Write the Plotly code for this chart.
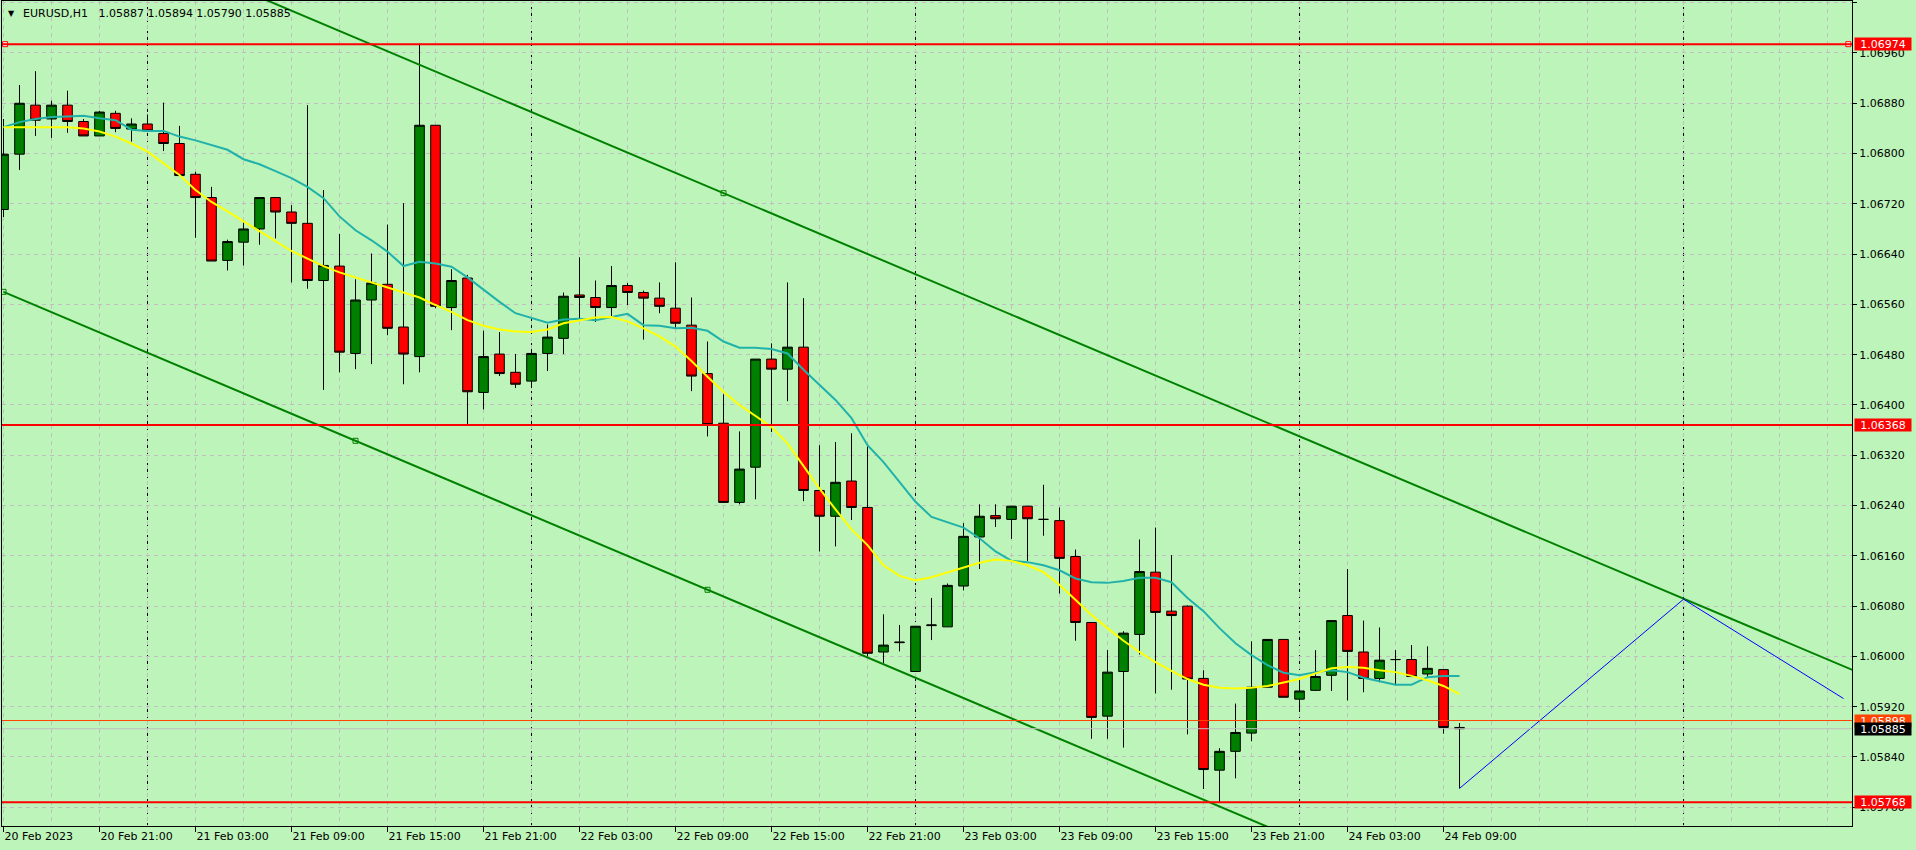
import plotly.graph_objects as go

# ---------------- data ----------------
bar_index = list(range(92))  # hourly bars, 20 Feb 2023 15:00 ... 24 Feb 2023 10:00

opens = [1.06711, 1.06799, 1.06877, 1.06855, 1.06877, 1.06851, 1.06828, 1.06864, 1.06839, 1.06847,
         1.06832, 1.06816, 1.06767, 1.06730, 1.06630, 1.06659, 1.06680, 1.06730, 1.06707, 1.06689,
         1.06598, 1.06621, 1.06482, 1.06567, 1.06592, 1.06524, 1.06477, 1.06845, 1.06555, 1.06602,
         1.06420, 1.06481, 1.06452, 1.06438, 1.06482, 1.06506, 1.06575, 1.06571, 1.06555, 1.06590,
         1.06579, 1.06570, 1.06554, 1.06527, 1.06450, 1.06371, 1.06245, 1.06301, 1.06473, 1.06457,
         1.06492, 1.06264, 1.06223, 1.06279, 1.06237, 1.06007, 1.06023, 1.05976, 1.06049, 1.06047,
         1.06112, 1.06190, 1.06224, 1.06218, 1.06239, 1.06218, 1.06216, 1.06159, 1.06054, 1.05905,
         1.05976, 1.06035, 1.06134, 1.06072, 1.06080, 1.05965, 1.05819, 1.05849, 1.05878, 1.05951,
         1.06027, 1.05932, 1.05946, 1.05970, 1.06065, 1.06007, 1.05965, 1.05995, 1.05995, 1.05972,
         1.05979, 1.05887]

highs = [1.06855, 1.06909, 1.06931, 1.06884, 1.06900, 1.06855, 1.06868, 1.06868, 1.06856, 1.06862,
         1.06881, 1.06844, 1.06771, 1.06747, 1.06663, 1.06690, 1.06730, 1.06730, 1.06718, 1.06877,
         1.06742, 1.06672, 1.06600, 1.06641, 1.06687, 1.06721, 1.06975, 1.06845, 1.06616, 1.06607,
         1.06518, 1.06516, 1.06481, 1.06487, 1.06528, 1.06579, 1.06635, 1.06598, 1.06621, 1.06594,
         1.06582, 1.06595, 1.06627, 1.06571, 1.06501, 1.06417, 1.06358, 1.06473, 1.06498, 1.06595,
         1.06570, 1.06336, 1.06341, 1.06355, 1.06334, 1.06067, 1.06050, 1.06048, 1.06093, 1.06116,
         1.06212, 1.06242, 1.06242, 1.06239, 1.06239, 1.06273, 1.06237, 1.06170, 1.06054, 1.06010,
         1.06040, 1.06186, 1.06205, 1.06161, 1.06081, 1.05978, 1.05854, 1.05925, 1.06024, 1.06027,
         1.06027, 1.05961, 1.06010, 1.06057, 1.06139, 1.06057, 1.06046, 1.06010, 1.06018, 1.06016,
         1.05979, 1.05894]

lows = [1.06699, 1.06774, 1.06828, 1.06825, 1.06833, 1.06828, 1.06828, 1.06834, 1.06819, 1.06835,
        1.06804, 1.06765, 1.06666, 1.06629, 1.06614, 1.06622, 1.06655, 1.06665, 1.06595, 1.06585,
        1.06424, 1.06452, 1.06457, 1.06465, 1.06511, 1.06433, 1.06452, 1.06554, 1.06519, 1.06369,
        1.06393, 1.06446, 1.06427, 1.06427, 1.06454, 1.06481, 1.06538, 1.06532, 1.06541, 1.06559,
        1.06504, 1.06546, 1.06522, 1.06422, 1.06350, 1.06244, 1.06242, 1.06250, 1.06357, 1.06406,
        1.06247, 1.06167, 1.06175, 1.06217, 1.06000, 1.05989, 1.06008, 1.05976, 1.06026, 1.06047,
        1.06105, 1.06139, 1.06206, 1.06187, 1.06152, 1.06192, 1.06100, 1.06025, 1.05869, 1.05869,
        1.05855, 1.06003, 1.05941, 1.05947, 1.05876, 1.05789, 1.05768, 1.05806, 1.05865, 1.05951,
        1.05935, 1.05916, 1.05945, 1.05945, 1.05930, 1.05943, 1.05959, 1.05954, 1.05967, 1.05966,
        1.05877, 1.05790]

closes = [1.06799, 1.06880, 1.06853, 1.06877, 1.06851, 1.06828, 1.06866, 1.06840, 1.06847, 1.06836,
          1.06816, 1.06765, 1.06730, 1.06629, 1.06660, 1.06680, 1.06730, 1.06707, 1.06689, 1.06598,
          1.06622, 1.06484, 1.06567, 1.06594, 1.06522, 1.06481, 1.06845, 1.06557, 1.06598, 1.06421,
          1.06477, 1.06450, 1.06433, 1.06482, 1.06508, 1.06573, 1.06571, 1.06555, 1.06590, 1.06579,
          1.06570, 1.06557, 1.06530, 1.06446, 1.06369, 1.06245, 1.06298, 1.06473, 1.06457, 1.06492,
          1.06264, 1.06223, 1.06277, 1.06237, 1.06005, 1.06018, 1.06022, 1.06048, 1.06050, 1.06113,
          1.06191, 1.06223, 1.06219, 1.06239, 1.06219, 1.06218, 1.06156, 1.06054, 1.05903, 1.05975,
          1.06037, 1.06135, 1.06070, 1.06065, 1.05964, 1.05820, 1.05849, 1.05879, 1.05951, 1.06027,
          1.05935, 1.05945, 1.05968, 1.06057, 1.06008, 1.05965, 1.05994, 1.05995, 1.05968, 1.05981,
          1.05887, 1.05885]

ma_fast = [1.06842, 1.06842, 1.06842, 1.06842, 1.06842, 1.06840, 1.06835, 1.06827, 1.06816, 1.06803,
           1.06785, 1.06766, 1.06742, 1.06723, 1.06708, 1.06692, 1.06676, 1.06660, 1.06645, 1.06633,
           1.06621, 1.06611, 1.06603, 1.06595, 1.06587, 1.06579, 1.06571, 1.06559, 1.06548, 1.06535,
           1.06526, 1.06520, 1.06517, 1.06516, 1.06520, 1.06530, 1.06535, 1.06539, 1.06540, 1.06533,
           1.06522, 1.06509, 1.06493, 1.06470, 1.06445, 1.06421, 1.06400, 1.06382, 1.06365, 1.06339,
           1.06302, 1.06267, 1.06234, 1.06202, 1.06177, 1.06145, 1.06128, 1.06121, 1.06126, 1.06134,
           1.06141, 1.06149, 1.06154, 1.06152, 1.06145, 1.06134, 1.06114, 1.06090, 1.06066, 1.06045,
           1.06025, 1.06007, 1.05991, 1.05977, 1.05964, 1.05955, 1.05950, 1.05949, 1.05950, 1.05953,
           1.05958, 1.05964, 1.05973, 1.05981, 1.05983, 1.05982, 1.05978, 1.05975, 1.05969, 1.05962,
           1.05953, 1.05940]

ma_slow = [1.06842, 1.06850, 1.06855, 1.06858, 1.06859, 1.06860, 1.06856, 1.06853, 1.06838, 1.06836,
           1.06836, 1.06827, 1.06821, 1.06814, 1.06806, 1.06791, 1.06783, 1.06772, 1.06761, 1.06747,
           1.06729, 1.06700, 1.06678, 1.06662, 1.06644, 1.06621, 1.06628, 1.06625, 1.06620, 1.06603,
           1.06583, 1.06564, 1.06546, 1.06538, 1.06531, 1.06536, 1.06537, 1.06535, 1.06540, 1.06545,
           1.06527, 1.06526, 1.06522, 1.06523, 1.06518, 1.06501, 1.06491, 1.06491, 1.06489, 1.06482,
           1.06456, 1.06432, 1.06408, 1.06379, 1.06336, 1.06309, 1.06277, 1.06246, 1.06222, 1.06214,
           1.06205, 1.06188, 1.06167, 1.06152, 1.06150, 1.06145, 1.06137, 1.06124, 1.06118, 1.06117,
           1.06120, 1.06125, 1.06125, 1.06118, 1.06093, 1.06072, 1.06045, 1.06021, 1.06002, 1.05986,
           1.05974, 1.05970, 1.05975, 1.05978, 1.05975, 1.05966, 1.05960, 1.05955, 1.05955, 1.05967,
           1.05969, 1.05969]

tick_bars = [0, 6, 12, 18, 24, 30, 36, 42, 48, 54, 60, 66, 72, 78, 84, 90]
tick_labels = ["20 Feb 2023", "20 Feb 21:00", "21 Feb 03:00", "21 Feb 09:00", "21 Feb 15:00",
               "21 Feb 21:00", "22 Feb 03:00", "22 Feb 09:00", "22 Feb 15:00", "22 Feb 21:00",
               "23 Feb 03:00", "23 Feb 09:00", "23 Feb 15:00", "23 Feb 21:00", "24 Feb 03:00",
               "24 Feb 09:00"]
day_separators = [9, 33, 57, 81, 105]

h_levels = [1.06974, 1.06368, 1.05768]
ask_price = 1.05898

channel_upper = {"bars": [45, 105], "prices": [1.06737, 1.06092]}
channel_lower = {"bars": [0, 44], "prices": [1.06580, 1.06106]}
channel_lower_marks = [0, 22, 44]
channel_upper_marks = [45]

zigzag_bars = [91, 105, 115]
zigzag_prices = [1.05790, 1.06091, 1.05933]

# ---------------- styling ----------------
BG = "#BDF4B9"
GRID = "#C4BCC4"
FONT = "DejaVu Sans"
X_MIN, X_MAX = -0.094, 115.53
Y_MIN, Y_MAX = 1.057302, 1.070427


def line_at(k, bars, prices):
    slope = (prices[1] - prices[0]) / (bars[1] - bars[0])
    return prices[0] + slope * (k - bars[0])


fig = go.Figure()

fig.add_trace(go.Candlestick(
    x=bar_index, open=opens, high=highs, low=lows, close=closes,
    increasing=dict(line=dict(color="black", width=1), fillcolor="#008000"),
    decreasing=dict(line=dict(color="black", width=1), fillcolor="#FF0000"),
    whiskerwidth=0, hoverinfo="skip", showlegend=False,
))

fig.add_trace(go.Scatter(x=bar_index, y=ma_slow, mode="lines",
                         line=dict(color="#20B2AA", width=2), hoverinfo="skip", showlegend=False))
fig.add_trace(go.Scatter(x=bar_index, y=ma_fast, mode="lines",
                         line=dict(color="#FFFF00", width=2), hoverinfo="skip", showlegend=False))

# channel lines (rays)
ux = [X_MIN - 20, X_MAX + 5]
fig.add_trace(go.Scatter(x=ux, y=[line_at(k, channel_upper["bars"], channel_upper["prices"]) for k in ux],
                         mode="lines", line=dict(color="#008000", width=2), hoverinfo="skip", showlegend=False))
lx = [channel_lower["bars"][0], X_MAX + 5]
fig.add_trace(go.Scatter(x=lx, y=[line_at(k, channel_lower["bars"], channel_lower["prices"]) for k in lx],
                         mode="lines", line=dict(color="#008000", width=2), hoverinfo="skip", showlegend=False))
mk_x = channel_lower_marks + channel_upper_marks
mk_y = [line_at(k, channel_lower["bars"], channel_lower["prices"]) for k in channel_lower_marks] + \
       [line_at(k, channel_upper["bars"], channel_upper["prices"]) for k in channel_upper_marks]
fig.add_trace(go.Scatter(x=mk_x, y=mk_y, mode="markers",
                         marker=dict(symbol="square-open", size=5, color="#008000", line=dict(width=1)),
                         hoverinfo="skip", showlegend=False))

# zigzag projection
fig.add_trace(go.Scatter(x=zigzag_bars, y=zigzag_prices, mode="lines",
                         line=dict(color="#0000FF", width=1), hoverinfo="skip", showlegend=False))

shapes = []
for d in day_separators:
    shapes.append(dict(type="line", xref="x", yref="paper", x0=d, x1=d, y0=0, y1=1,
                       line=dict(color="black", width=1, dash="3px,3px"), layer="below"))
for lv in h_levels:
    shapes.append(dict(type="line", xref="paper", yref="y", x0=0, x1=1, y0=lv, y1=lv,
                       line=dict(color="#FF0000", width=2), layer="above"))
shapes.append(dict(type="line", xref="paper", yref="y", x0=0, x1=1, y0=ask_price, y1=ask_price,
                   line=dict(color="#FF4500", width=1), layer="above"))
shapes.append(dict(type="line", xref="paper", yref="y", x0=0, x1=1, y0=closes[-1], y1=closes[-1],
                   line=dict(color="#C0C0C0", width=1), layer="above"))

# anchor squares on the top horizontal level
fig.add_trace(go.Scatter(x=[0.1, 115.3], y=[h_levels[0], h_levels[0]], mode="markers",
                         marker=dict(symbol="square", size=5, color="white",
                                     line=dict(color="#FF0000", width=1)),
                         hoverinfo="skip", showlegend=False))

annotations = []
def price_label(price, bg):
    return dict(xref="paper", yref="y", x=1, y=price, xanchor="left", yanchor="middle",
                xshift=2, text=f"{price:.5f}", showarrow=False, bgcolor=bg,
                font=dict(family=FONT, size=11, color="white"), width=56, height=12,
                borderpad=0, align="center", valign="middle")

for lv in h_levels:
    annotations.append(price_label(lv, "#FF0000"))
annotations.append(price_label(ask_price, "#FF4500"))
annotations.append(price_label(closes[-1], "#000000"))

annotations.append(dict(xref="paper", yref="paper", x=0, y=1, xanchor="left", yanchor="middle",
                        xshift=4, yshift=-12.5, text="▼", showarrow=False,
                        font=dict(family=FONT, size=8, color="black")))
title_txt = "EURUSD,H1\u00a0\u00a0\u00a0" + " ".join(f"{v:.5f}" for v in (opens[-1], highs[-1], lows[-1], closes[-1]))
annotations.append(dict(xref="paper", yref="paper", x=0, y=1, xanchor="left", yanchor="middle",
                        xshift=18.5, yshift=-12.5, text=title_txt, showarrow=False,
                        font=dict(family=FONT, size=11, color="black")))

fig.update_layout(
    width=1916, height=850,
    margin=dict(l=2, r=64, t=1, b=24, pad=0),
    paper_bgcolor=BG, plot_bgcolor=BG,
    showlegend=False,
    boxmode="overlay", boxgap=0.4, boxgroupgap=0,
    shapes=shapes, annotations=annotations,
    font=dict(family=FONT, size=11, color="black"),
    xaxis=dict(
        range=[X_MIN, X_MAX], rangeslider=dict(visible=False), automargin=False,
        tickmode="array", tickvals=tick_bars, ticktext=tick_labels,
        ticks="outside", ticklen=5, tickcolor="black", ticklabelposition="outside right",
        tickfont=dict(family=FONT, size=11, color="black"),
        showgrid=True, gridcolor=GRID, griddash="4px,4px", gridwidth=1,
        minor=dict(tickmode="linear", tick0=0, dtick=3, showgrid=True, gridcolor=GRID,
                   griddash="4px,4px", ticks=""),
        showline=True, linecolor="black", linewidth=1, mirror=True, zeroline=False,
    ),
    yaxis=dict(
        range=[Y_MIN, Y_MAX], side="right", automargin=False,
        tickmode="linear", tick0=1.0576, dtick=0.0008, tickformat=".5f",
        ticks="outside", ticklen=4, tickcolor="black",
        tickfont=dict(family=FONT, size=11, color="black"),
        showgrid=True, gridcolor=GRID, griddash="4px,4px", gridwidth=1,
        showline=True, linecolor="black", linewidth=1, mirror=True, zeroline=False,
    ),
)

fig.write_html(
    "out.html",
    config={"displayModeBar": False},
    post_script=("document.body.style.margin='0';document.body.style.padding='0';"
                 "document.body.style.overflow='hidden';"
                 "document.documentElement.style.overflow='hidden';"
                 "document.body.style.background='" + BG + "';"),
)
